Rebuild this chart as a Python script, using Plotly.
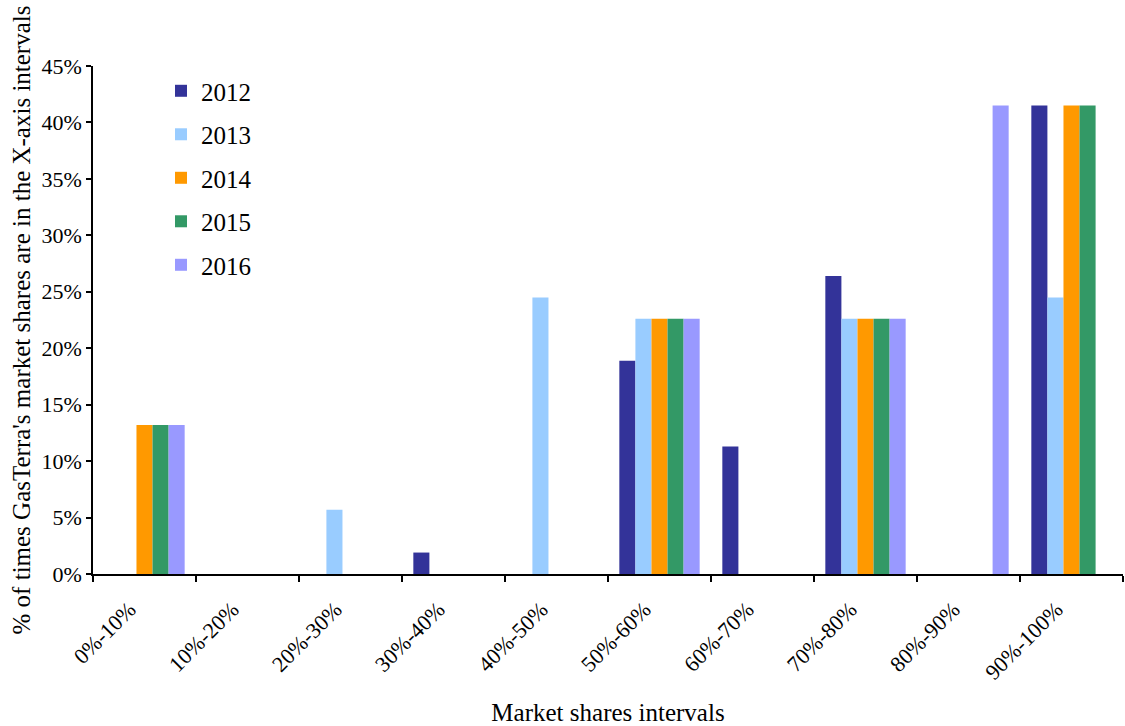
import plotly.graph_objects as go

categories = ["0%-10%", "10%-20%", "20%-30%", "30%-40%", "40%-50%",
              "50%-60%", "60%-70%", "70%-80%", "80%-90%", "90%-100%"]

# Share (%) of times market shares fall in each interval, per year
y2012 = [0, 0, 0, 1.9, 0, 18.9, 11.3, 26.4, 0, 41.5]
y2013 = [0, 0, 5.7, 0, 24.5, 22.6, 0, 22.6, 0, 24.5]
y2014 = [13.2, 0, 0, 0, 0, 22.6, 0, 22.6, 0, 41.5]
y2015 = [13.2, 0, 0, 0, 0, 22.6, 0, 22.6, 0, 41.5]
y2016 = [13.2, 0, 0, 0, 0, 22.6, 0, 22.6, 41.5, 0]

years = ["2012", "2013", "2014", "2015", "2016"]
series = [y2012, y2013, y2014, y2015, y2016]
colors = ["#333399", "#99CCFF", "#FF9900", "#339966", "#9999FF"]

FONT = "Liberation Serif, Times New Roman, serif"

fig = go.Figure()
for name, vals, col in zip(years, series, colors):
    fig.add_trace(go.Bar(
        x=categories, y=[v / 100 for v in vals], name=name,
        marker=dict(color=col, line=dict(width=0)),
        legendgroup=name,
    ))

fig.update_layout(
    width=1125, height=726,
    margin=dict(l=93, r=2, t=66, b=152),
    paper_bgcolor="white", plot_bgcolor="white",
    barmode="group", bargap=0.22, bargroupgap=0,
    font=dict(family=FONT, color="black"),
    legend=dict(
        x=0.066, y=0.996, xanchor="left", yanchor="top",
        traceorder="grouped", tracegroupgap=8,
        font=dict(size=25, family=FONT), bgcolor="rgba(0,0,0,0)",
    ),
    xaxis=dict(
        automargin=False,
        showline=True, linecolor="black", linewidth=1.5,
        ticks="outside", ticklen=6, tickcolor="black", tickwidth=1.5,
        tickson="boundaries", tickangle=-45,
        ticklabelstandoff=12, ticklabelshift=-15,
        tickfont=dict(size=22, family=FONT),
        showgrid=False, zeroline=False,
        title=dict(text="Market shares intervals", font=dict(size=25, family=FONT), standoff=28),
    ),
    yaxis=dict(
        automargin=False,
        range=[0, 0.45], dtick=0.05, tickformat=".0%",
        showline=True, linecolor="black", linewidth=1.5,
        ticks="outside", ticklen=5, tickcolor="black", tickwidth=1.5,
        tickfont=dict(size=22, family=FONT),
        showgrid=False, zeroline=False,
        title=dict(text="% of times GasTerra's market shares are in the X-axis intervals",
                   font=dict(size=25, family=FONT), standoff=4),
    ),
)

fig.write_html("out.html")
